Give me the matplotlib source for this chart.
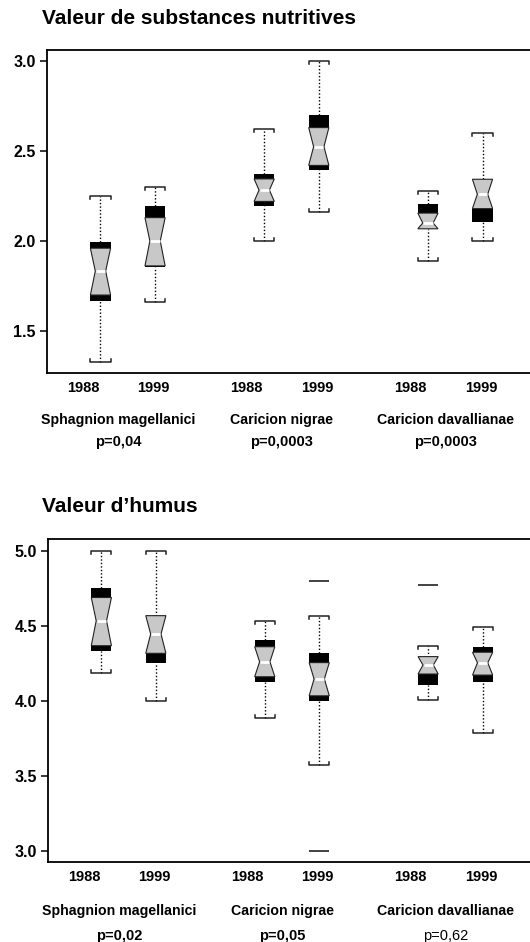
import matplotlib
matplotlib.use("Agg")
import matplotlib.pyplot as plt

plt.rcParams['font.family'] = ['Liberation Sans', 'DejaVu Sans']

# Box positions and labels (shared by both panels)
positions = [1, 2, 4, 5, 7, 8]
years = ["1988", "1999", "1988", "1999", "1988", "1999"]
groups = ["Sphagnion magellanici", "Caricion nigrae", "Caricion davallianae"]

# Valeur de substances nutritives
nut_q1 = [1.665, 1.855, 2.195, 2.395, 2.068, 2.105]
nut_notch_lo = [1.70, 1.862, 2.22, 2.42, 2.068, 2.18]
nut_med = [1.833, 2.0, 2.283, 2.524, 2.10, 2.26]
nut_notch_hi = [1.96, 2.13, 2.345, 2.63, 2.155, 2.343]
nut_q3 = [1.997, 2.196, 2.372, 2.70, 2.206, 2.343]
nut_lo = [1.33, 1.66, 2.0, 2.163, 1.89, 2.0]
nut_hi = [2.25, 2.30, 2.62, 3.0, 2.28, 2.60]
nut_out = [[], [], [], [], [], []]
nut_p = ["p=0,04", "p=0,0003", "p=0,0003"]
nut_p_bold = [True, True, True]

# Valeur d'humus
hum_q1 = [4.333, 4.251, 4.125, 4.0, 4.107, 4.125]
hum_notch_lo = [4.369, 4.318, 4.162, 4.035, 4.18, 4.173]
hum_med = [4.535, 4.447, 4.262, 4.147, 4.24, 4.255]
hum_notch_hi = [4.69, 4.569, 4.362, 4.256, 4.296, 4.325]
hum_q3 = [4.751, 4.569, 4.407, 4.318, 4.296, 4.358]
hum_lo = [4.19, 4.0, 3.885, 3.573, 4.007, 3.785]
hum_hi = [5.0, 5.0, 4.535, 4.567, 4.369, 4.495]
hum_out = [[], [], [], [4.80, 3.0], [4.775], []]
hum_p = ["p=0,02", "p=0,05", "p=0,62"]
hum_p_bold = [True, True, False]

GRAY = "#c8c8c8"
W = 0.37      # box width (data units)
NW = 0.19     # waist width at the median


def draw_panel(ax, q1, nlo, med, nhi, q3, lo, hi, outl, ylim, yticks, capd):
    for i, x in enumerate(positions):
        # black bands between hinge and notch
        ax.bar(x, nlo[i] - q1[i], bottom=q1[i], width=W, color="black", lw=0)
        ax.bar(x, q3[i] - nhi[i], bottom=nhi[i], width=W, color="black", lw=0)
        # gray bow-tie
        xs = [x - W/2, x + W/2, x + NW/2, x + W/2, x - W/2, x - NW/2]
        ys = [nlo[i], nlo[i], med[i], nhi[i], nhi[i], med[i]]
        ax.fill(xs, ys, facecolor=GRAY, edgecolor="#222222", lw=0.8, zorder=3)
        ax.hlines(med[i], x - NW/2 + 0.01, x + NW/2 - 0.01, color="white", lw=2, zorder=4)
        # dotted whiskers
        ax.vlines(x, q3[i], hi[i], color="black", linestyles=(0, (1, 1.5)), lw=1)
        ax.vlines(x, lo[i], q1[i], color="black", linestyles=(0, (1, 1.5)), lw=1)
        # bracket caps
        ax.plot([x - W/2, x - W/2, x + W/2, x + W/2],
                [hi[i] - capd, hi[i], hi[i], hi[i] - capd], color="#222222", lw=1.1)
        ax.plot([x - W/2, x - W/2, x + W/2, x + W/2],
                [lo[i] + capd, lo[i], lo[i], lo[i] + capd], color="#222222", lw=1.1)
        if outl[i]:
            ax.plot([x] * len(outl[i]), outl[i], ls="none", marker="_",
                    markersize=14.5, markeredgewidth=1.3, color="#333333")
    ax.set_xlim(0.02, 8.87)
    ax.set_ylim(*ylim)
    ax.set_yticks(yticks)
    ax.set_yticklabels([f"{t:.1f}" for t in yticks], fontsize=11.5, fontweight="bold")
    ax.tick_params(axis="y", length=5, width=1.1, pad=3)
    tick_x = [p + (-0.32 if k % 2 == 0 else -0.03) for k, p in enumerate(positions)]
    ax.set_xticks(tick_x)
    ax.set_xticklabels(years, fontsize=10.5, fontweight="bold")
    ax.tick_params(axis="x", length=0, pad=6)
    ax.spines["right"].set_visible(False)
    for s in ["left", "top", "bottom"]:
        ax.spines[s].set_linewidth(1.3)
    return tick_x


def add_groups(ax, tick_x, pvals, pbold, dy_group, dy_p):
    for g in range(3):
        xc = (tick_x[2*g] + tick_x[2*g + 1]) / 2
        ax.annotate(groups[g], xy=(xc, 0), xycoords=("data", "axes fraction"),
                    xytext=(0, -dy_group), textcoords="offset points",
                    ha="center", va="center", fontsize=10.2, fontweight="bold")
        ax.annotate(pvals[g], xy=(xc, 0), xycoords=("data", "axes fraction"),
                    xytext=(0, -dy_p), textcoords="offset points",
                    ha="center", va="center", fontsize=10.5,
                    fontweight="bold" if pbold[g] else "normal")


fig = plt.figure(figsize=(5.3, 9.42), dpi=100)

ax1 = fig.add_axes([47/530, 1 - 373/942, 1 - 47/530, 323/942])
t1 = draw_panel(ax1, nut_q1, nut_notch_lo, nut_med, nut_notch_hi, nut_q3,
                nut_lo, nut_hi, nut_out, (1.267, 3.061), [1.5, 2.0, 2.5, 3.0], 0.017)
add_groups(ax1, t1, nut_p, nut_p_bold, 34, 50)
fig.text(42/530, 1 - 18/942, "Valeur de substances nutritives", fontsize=15,
         fontweight="bold", ha="left", va="center")

ax2 = fig.add_axes([48/530, 1 - 862/942, 1 - 48/530, 323/942])
t2 = draw_panel(ax2, hum_q1, hum_notch_lo, hum_med, hum_notch_hi, hum_q3,
                hum_lo, hum_hi, hum_out, (2.927, 5.08), [3.0, 3.5, 4.0, 4.5, 5.0], 0.02)
add_groups(ax2, t2, hum_p, hum_p_bold, 35, 53)
fig.text(42/530, 1 - 507/942, "Valeur d\u2019humus", fontsize=15,
         fontweight="bold", ha="left", va="center")

fig.savefig("out.png", dpi=100)
